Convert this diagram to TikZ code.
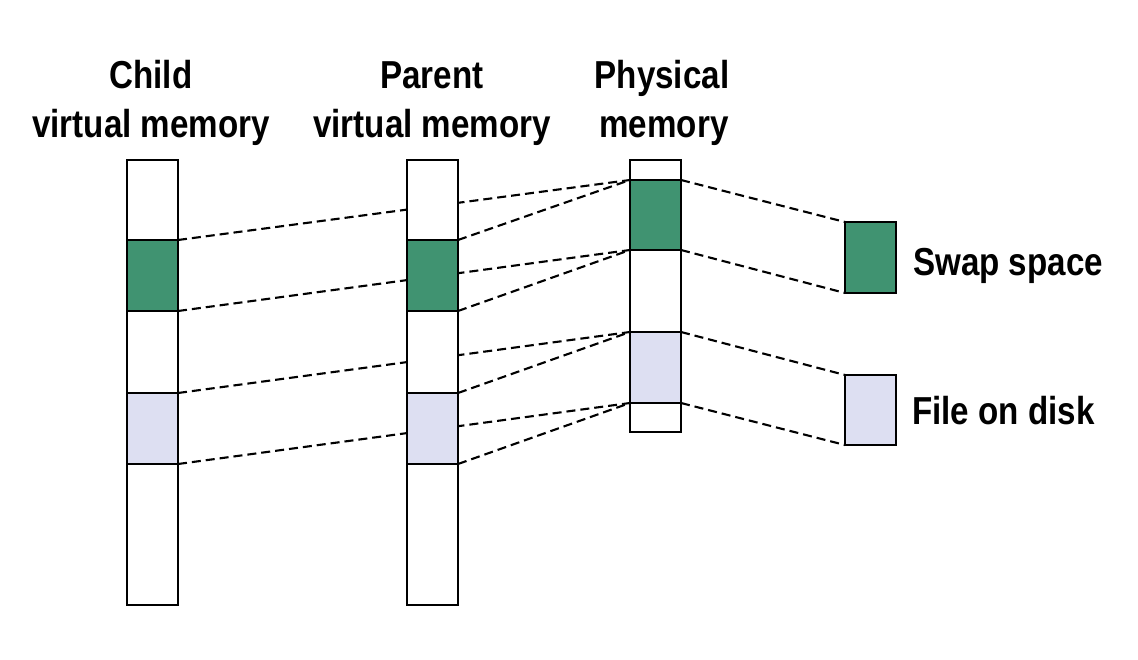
\documentclass[tikz,border=0pt]{standalone}
\usepackage{fontspec}
\setmainfont{Liberation Sans}
\usepackage{graphicx}
\usetikzlibrary{backgrounds}
\definecolor{swapgreen}{HTML}{409371}
\definecolor{filelav}{HTML}{DDDFF2}
\newcommand{\lbltext}[1]{\scalebox{0.85}[1]{\fontsize{39}{46}\selectfont\bfseries #1}}
\begin{document}
\begin{tikzpicture}[x=1pt,y=-1pt,
  seg/.style={draw=black, line width=2.6pt, inner sep=0pt, outer sep=0pt, minimum width=51pt, fill=white},
  map/.style={draw=black, line width=2.1pt, dash pattern=on 9pt off 5pt},
  title/.style={anchor=base, inner sep=0pt},
  legend/.style={anchor=base west, inner sep=0pt}]
\useasboundingbox (0,0) rectangle (1138,660);
% child virtual memory
\node[seg, minimum height=80pt] (c1) at (152.5,200) {};
\node[seg, minimum height=71pt, fill=swapgreen] (cg) at (152.5,275.5) {};
\node[seg, minimum height=82pt] (c2) at (152.5,352) {};
\node[seg, minimum height=71pt, fill=filelav] (cl) at (152.5,428.5) {};
\node[seg, minimum height=141pt] (c3) at (152.5,534.5) {};
% parent virtual memory
\node[seg, minimum height=80pt] (p1) at (432.5,200) {};
\node[seg, minimum height=71pt, fill=swapgreen] (pg) at (432.5,275.5) {};
\node[seg, minimum height=82pt] (p2) at (432.5,352) {};
\node[seg, minimum height=71pt, fill=filelav] (pl) at (432.5,428.5) {};
\node[seg, minimum height=141pt] (p3) at (432.5,534.5) {};
% physical memory
\node[seg, minimum height=20pt] (h1) at (655.5,170) {};
\node[seg, minimum height=70pt, fill=swapgreen] (hg) at (655.5,215) {};
\node[seg, minimum height=82pt] (h2) at (655.5,291) {};
\node[seg, minimum height=71pt, fill=filelav] (hl) at (655.5,367.5) {};
\node[seg, minimum height=29pt] (h3) at (655.5,417.5) {};
% backing store
\node[seg, minimum height=71pt, fill=swapgreen] (swap) at (870.5,257.5) {};
\node[seg, minimum height=70pt, fill=filelav] (file) at (870.5,410) {};
% titles
\node[title] (ct1) at (151,89) {\lbltext{Child}};
\node[title] (ct2) at (151,138) {\lbltext{virtual memory}};
\node[title] (pt1) at (432,89) {\lbltext{Parent}};
\node[title] (pt2) at (432,138) {\lbltext{virtual memory}};
\node[title] (ht1) at (662,89) {\lbltext{Physical}};
\node[title] (ht2) at (664,138) {\lbltext{memory}};
\node[legend] (swaplbl) at (913,276) {\lbltext{Swap space}};
\node[legend] (filelbl) at (912,424) {\lbltext{File on disk}};
% mappings
\begin{scope}[on background layer]
\fill[white] (0,0) rectangle (1138,660);
\draw[map] (cg.north east) -- (hg.north west);
\draw[map] (cg.south east) -- (hg.south west);
\draw[map] (cl.north east) -- (hl.north west);
\draw[map] (cl.south east) -- (hl.south west);
\draw[map] (pg.north east) -- (hg.north west);
\draw[map] (pg.south east) -- (hg.south west);
\draw[map] (pl.north east) -- (hl.north west);
\draw[map] (pl.south east) -- (hl.south west);
\draw[map] (hg.north east) -- (swap.north west);
\draw[map] (hg.south east) -- (swap.south west);
\draw[map] (hl.north east) -- (file.north west);
\draw[map] (hl.south east) -- (file.south west);
\end{scope}
\end{tikzpicture}
\end{document}
